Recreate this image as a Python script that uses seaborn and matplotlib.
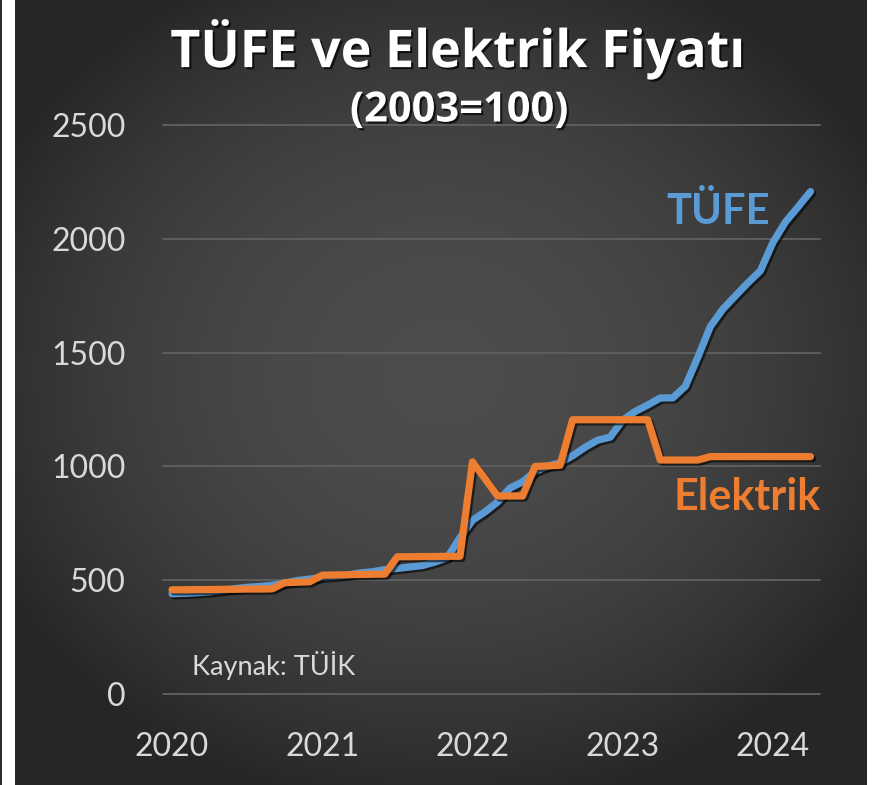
import numpy as np
import pandas as pd
import matplotlib
matplotlib.use('Agg')
import matplotlib.pyplot as plt
import matplotlib.patheffects as pe
import seaborn as sns

# aylik veriler, Ocak 2020 - Nisan 2024 (2003=100)
tufe = [440.5, 442.2, 444.9, 448.9, 455.6, 462.7, 468.6, 472.6, 477.2, 487.4, 498.6, 504.8,
        513.3, 517.4, 522.5, 531.9, 536.8, 546.5, 551.6, 557.9, 564.3, 579.6, 600.0, 687.0,
        763.2, 799.9, 843.6, 904.8, 932.0, 977.9, 1001.0, 1015.7, 1046.9, 1084.0, 1115.3, 1128.5,
        1203.5, 1241.3, 1269.8, 1300.6, 1301.1, 1351.6, 1479.5, 1614.3, 1691.0, 1749.1, 1806.5, 1859.4,
        1984.0, 2073.9, 2139.5, 2207.5]
elektrik = [458, 458, 459, 459, 460, 460, 461, 461, 462,
            489, 491, 493,
            522, 523, 524, 525, 526, 527,
            603, 603, 604, 604, 605, 605,
            1020, 946,
            870, 870, 870,
            1000, 1002, 1005,
            1205, 1205, 1205, 1205, 1205, 1205, 1205,
            1028, 1028, 1028, 1028,
            1043, 1043, 1043, 1043, 1043, 1043, 1043, 1043, 1043]
years = ['2020', '2021', '2022', '2023', '2024']
year_pos = [0, 12, 24, 36, 48]
yticks = [0, 500, 1000, 1500, 2000, 2500]

df = pd.DataFrame({'ay': range(len(tufe)), 'TÜFE': tufe, 'Elektrik': elektrik})

blue = '#5b9bd5'
orange = '#ed7d31'
txt = '#d9d9d9'

sns.set_style('dark')
plt.rcParams['font.family'] = ['Lato', 'DejaVu Sans']

W, H = 877, 785
fig = plt.figure(figsize=(W / 100, H / 100), dpi=100, facecolor='white')

# koyu gri radyal arka plan
bg = fig.add_axes([15 / W, 0, 852 / W, 1], zorder=-1)
yy, xx = np.mgrid[-1:1:400j, -1:1:400j]
r2 = (xx / 1.1) ** 2 + ((yy + 0.05) / 1.05) ** 2
val = np.clip(0.30 - 0.13 * r2, 0.15, 0.30)
bg.imshow(np.dstack([val, val, val]), aspect='auto', extent=[0, 1, 0, 1])
bg.set_axis_off()
fig.patches.append(plt.Rectangle((0, 0), 2 / W, 1, transform=fig.transFigure,
                                 facecolor='#2b2b2b', edgecolor='none'))

ax = fig.add_axes([163 / W, 1 - 694 / H, 657 / W, 569 / H])
ax.set_facecolor('none')

shadow = [pe.SimpleLineShadow(offset=(1.5, -1.5), shadow_color='black', alpha=0.6), pe.Normal()]
sns.lineplot(data=df, x='ay', y='TÜFE', color=blue, lw=5.2, ax=ax,
             solid_capstyle='round', solid_joinstyle='round')
sns.lineplot(data=df, x='ay', y='Elektrik', color=orange, lw=5.2, ax=ax,
             solid_capstyle='round', solid_joinstyle='round')
for ln in ax.lines:
    ln.set_path_effects(shadow)

ax.set_xlim(-0.72, 51.76)
ax.set_ylim(0, 2500)
ax.set_yticks(yticks)
ax.set_yticklabels([str(v) for v in yticks])
ax.set_xticks(year_pos)
ax.set_xticklabels(years)
ax.tick_params(axis='y', colors=txt, labelsize=23, pad=27, length=0)
ax.tick_params(axis='x', colors=txt, labelsize=23, pad=27, length=0)
ax.set_xlabel('')
ax.set_ylabel('')
ax.grid(axis='y', color='#5e5e5e', lw=1.4)
ax.grid(axis='x', visible=False)
for s in ax.spines.values():
    s.set_visible(False)
for gl in ax.get_ygridlines():
    gl.set_clip_on(False)

ax.text(43.6, 2118, 'TÜFE', color=blue, fontsize=30, fontweight='bold',
        ha='center', va='center')
ax.text(45.9, 866, 'Elektrik', color=orange, fontsize=31, fontweight='bold',
        ha='center', va='center')
ax.text(1.6, 127, 'Kaynak: TÜİK', color=txt, fontsize=19.5, ha='left', va='center')

title_fx = [pe.withSimplePatchShadow(offset=(1.5, -1.5), shadow_rgbFace='black', alpha=0.7)]
fig.text(458 / W, 1 - 50 / H, 'TÜFE ve Elektrik Fiyatı', color='white', fontsize=37.5,
         fontweight='bold', family=['Open Sans', 'DejaVu Sans'],
         ha='center', va='center', path_effects=title_fx)
fig.text(459 / W, 1 - 111 / H, '(2003=100)', color='white', fontsize=30,
         fontweight='bold', family=['Open Sans', 'DejaVu Sans'],
         ha='center', va='center', path_effects=title_fx)

fig.savefig('out.png', dpi=100, facecolor='white')
